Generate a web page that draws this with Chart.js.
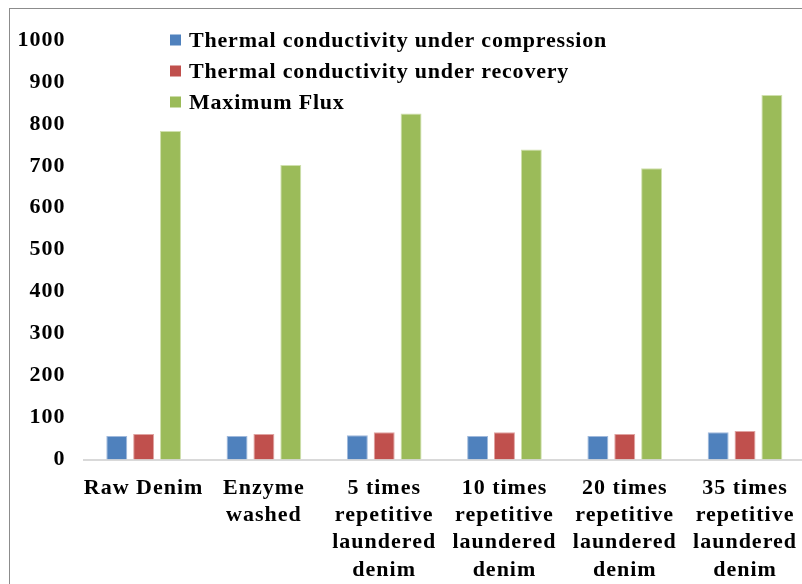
<!DOCTYPE html>
<html>
<head>
<meta charset="utf-8">
<script src="https://cdn.jsdelivr.net/npm/chart.js@4/dist/chart.umd.min.js"></script>
<style>
    html, body { margin: 0; padding: 0; background: #fff; overflow: hidden; }
    #wrap { position: relative; width: 812px; height: 584px; }
    #frame { position: absolute; left: 9px; top: 8px; width: 820px; height: 600px; border: 1px solid #8c8c8c; pointer-events: none; }
</style>
</head>
<body>
<div id="wrap">
    <canvas id="chart-denim"></canvas>
    <div id="frame"></div>
</div>
<script>
const categories = [
    'Raw Denim',
    ['Enzyme', 'washed'],
    ['5 times', 'repetitive', 'laundered', 'denim'],
    ['10 times', 'repetitive', 'laundered', 'denim'],
    ['20 times', 'repetitive', 'laundered', 'denim'],
    ['35 times', 'repetitive', 'laundered', 'denim']
];
const compression = [56, 56, 58, 56, 56, 65];
const recovery = [61, 61, 65, 65, 61, 68];
const maxFlux = [783, 702, 825, 739, 694, 869];

const seriesNames = [
    'Thermal conductivity under compression',
    'Thermal conductivity under recovery',
    'Maximum Flux'
];

const colors = {
    blue: '#4f81bd',
    red: '#c0504d',
    green: '#9bbb59'
};

const FONT = "'Liberation Serif', 'Times New Roman', serif";

// the reference text is a bit spread out, so widen all canvas text
const spacing = {
    id: 'spacing',
    beforeUpdate(chart) { chart.ctx.letterSpacing = '1px'; },
    beforeDraw(chart) { chart.ctx.letterSpacing = '1px'; }
};

// legend drawn inside the plot, stacked top-left
const insideLegend = {
    id: 'insideLegend',
    afterDraw(chart) {
        const ctx = chart.ctx;
        ctx.save();
        ctx.font = `bold 22px ${FONT}`;
        ctx.letterSpacing = '0.8px';
        ctx.textBaseline = 'middle';
        ctx.textAlign = 'left';
        chart.data.datasets.forEach((ds, i) => {
            const y = 40 + i * 31;
            ctx.fillStyle = ds.backgroundColor;
            ctx.fillRect(170, y - 5.5, 11, 11);
            ctx.fillStyle = '#000';
            ctx.fillText(ds.label, 189, y + 1);
        });
        ctx.restore();
    }
};

function makeDataset(label, data, color, border) {
    return {
        label,
        data,
        backgroundColor: color,
        borderColor: border,
        borderWidth: 1,
        barPercentage: 0.78,
        categoryPercentage: 0.67
    };
}

const ctx = document.getElementById('chart-denim').getContext('2d');
new Chart(ctx, {
    type: 'bar',
    data: {
        labels: categories,
        datasets: [
            makeDataset(seriesNames[0], compression, colors.blue, '#9fb9dc'),
            makeDataset(seriesNames[1], recovery, colors.red, '#e0a3a1'),
            makeDataset(seriesNames[2], maxFlux, colors.green, '#cfe0ad')
        ]
    },
    options: {
        responsive: true,
        maintainAspectRatio: false,
        animation: false,
        layout: { padding: { top: 40, left: 0, right: 0, bottom: 0 } },
        plugins: {
            legend: { display: false },
            tooltip: { enabled: false }
        },
        scales: {
            x: {
                grid: { display: false, drawTicks: false },
                border: { display: true, color: '#d9d9d9', width: 2 },
                ticks: {
                    color: '#000',
                    autoSkip: false,
                    maxRotation: 0,
                    padding: 15,
                    font: { family: FONT, size: 22, weight: 'bold', lineHeight: 1.24 }
                },
                afterFit(scale) { scale.height = 124.5; }
            },
            y: {
                min: 0,
                max: 1000,
                grid: { display: false, drawTicks: false },
                border: { display: false },
                ticks: {
                    stepSize: 100,
                    color: '#000',
                    padding: 18,
                    font: { family: FONT, size: 22, weight: 'bold' },
                    callback: v => String(v)
                },
                afterFit(scale) { scale.width = 83.5; }
            }
        }
    },
    plugins: [spacing, insideLegend]
});
</script>
</body>
</html>
